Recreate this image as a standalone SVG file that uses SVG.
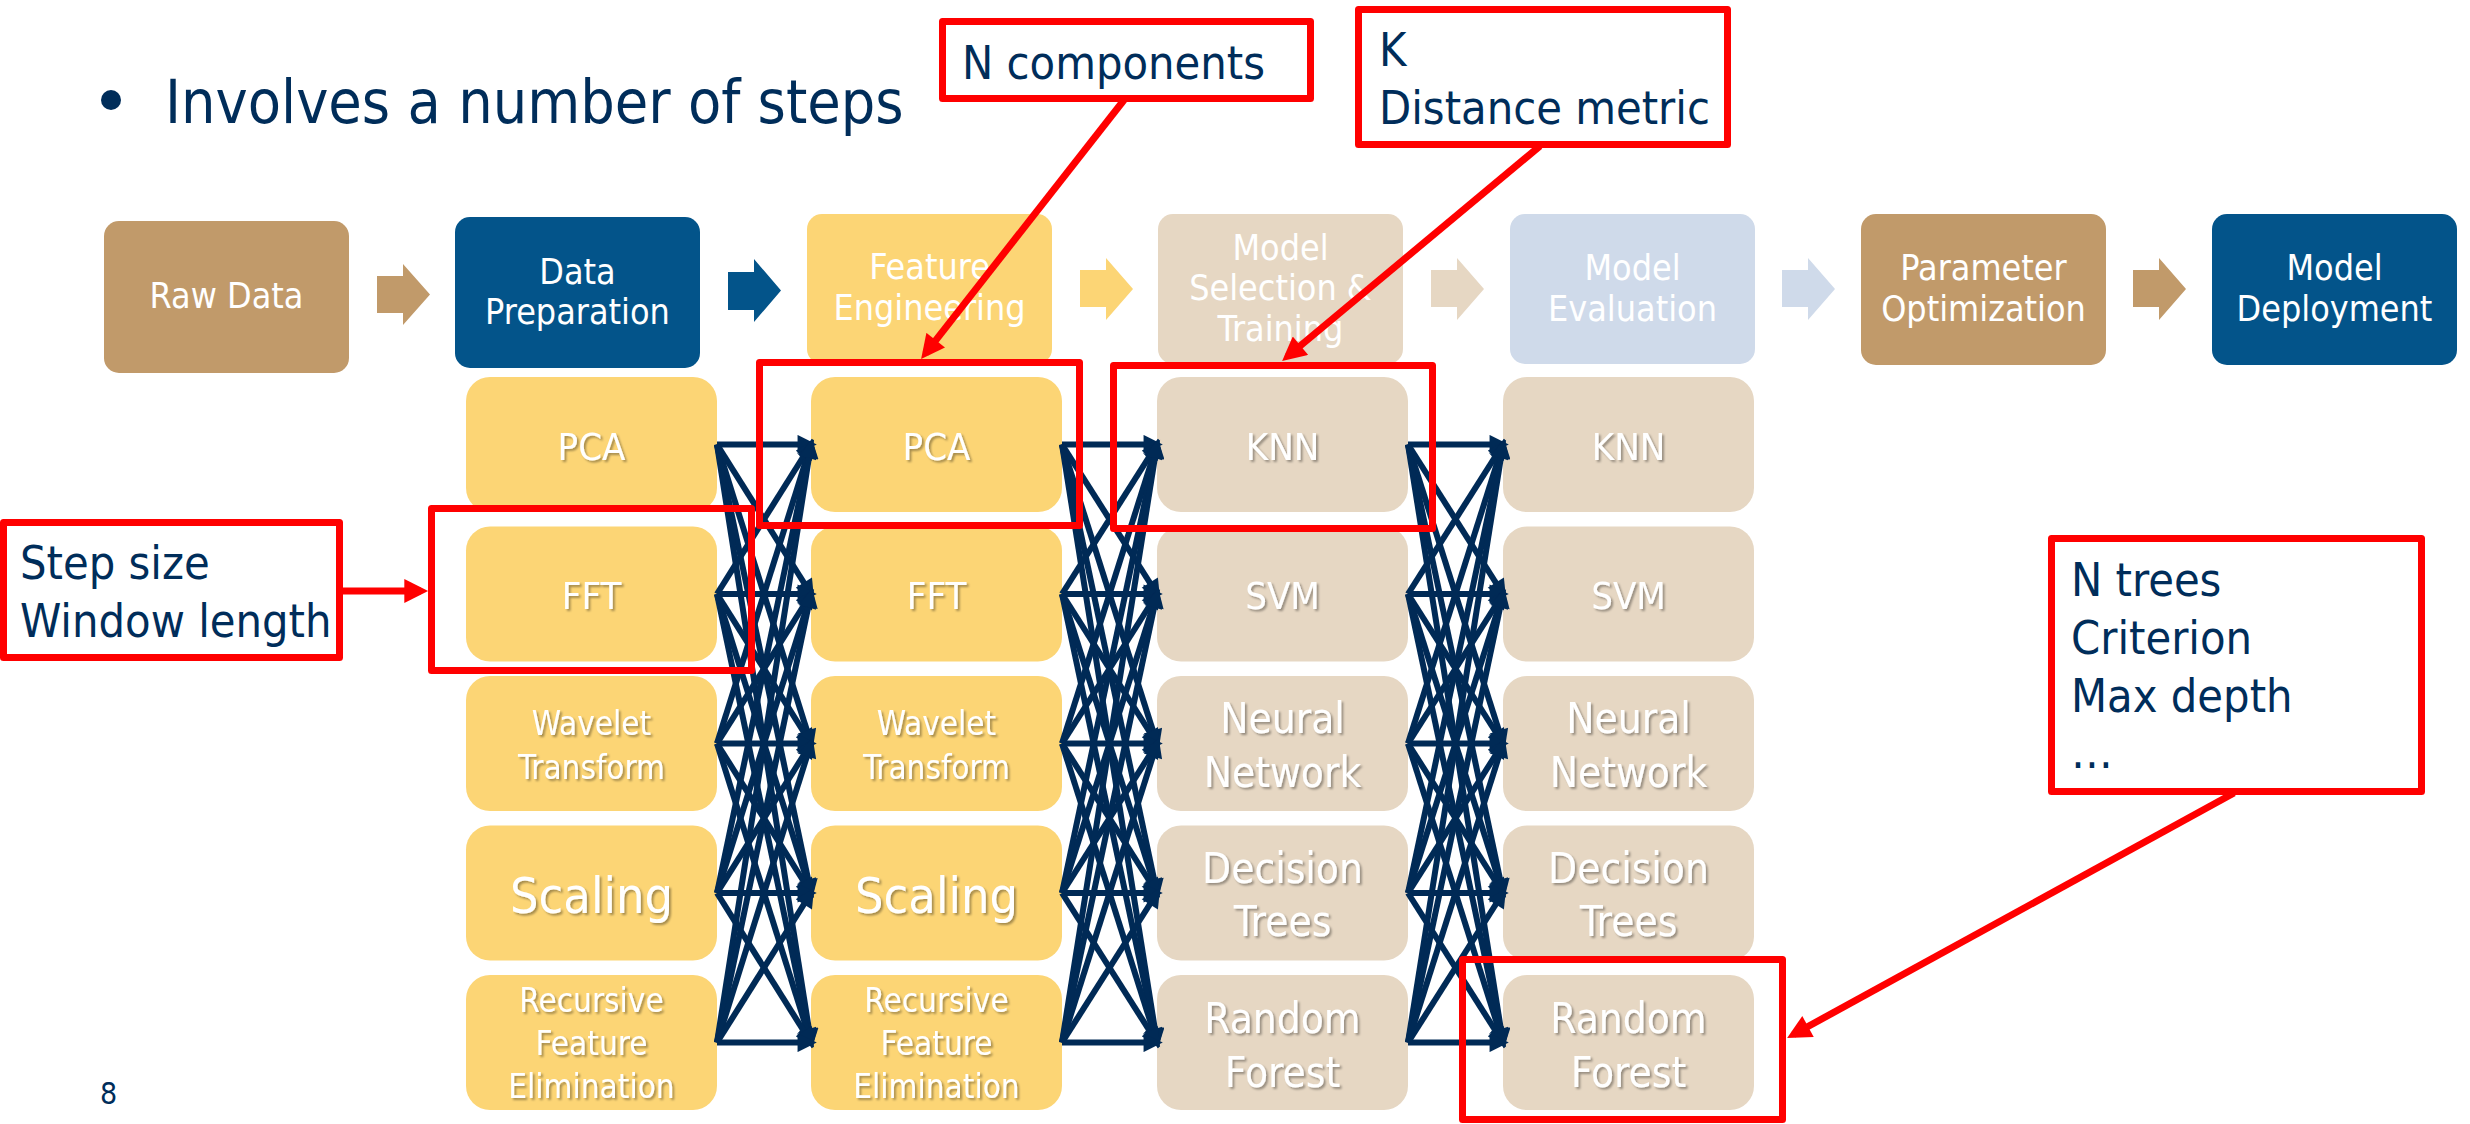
<svg xmlns="http://www.w3.org/2000/svg" width="2470" height="1124" viewBox="0 0 2470 1124">
  <defs>
    <style>
      .f { font-family: "DejaVu Sans Condensed", "Liberation Sans", Arial, sans-serif; }
      .lbl { font-family: "DejaVu Sans Condensed", "Liberation Sans", Arial, sans-serif; fill: #ffffff; text-anchor: middle; }
      .top { font-size: 35.6px; }
      .sm { font-size: 38px; }
      .xs { font-size: 33px; }
      .lg { font-size: 42px; }
      .xl { font-size: 50px; }
      .sh { filter: url(#shadow); }
      .note { font-family: "DejaVu Sans Condensed", "Liberation Sans", Arial, sans-serif; font-size: 46.5px; fill: #002D5A; }
      .tan { fill: #C19A6A; }
      .navy { fill: #03548A; }
      .yel { fill: #FCD575; }
      .bei { fill: #E6D7C3; }
      .blu { fill: #CFDAEA; }
      .red { fill: none; stroke: #FF0000; stroke-width: 7; stroke-linejoin: round; }
      .redw { fill: #ffffff; stroke: #FF0000; stroke-width: 7; stroke-linejoin: round; }
      .redl { stroke: #FF0000; stroke-width: 7; fill: none; marker-end: url(#redHead); }
      .mesh line { stroke: #002A56; stroke-width: 6; marker-end: url(#navyHead); }
    </style>
    <filter id="shadow" x="-10%" y="-10%" width="130%" height="140%">
      <feDropShadow dx="2" dy="2" stdDeviation="1" flood-color="#000000" flood-opacity="0.35"/>
    </filter>
    <marker id="navyHead" viewBox="0 0 10 10" refX="7" refY="5" markerWidth="4" markerHeight="3.2" orient="auto" markerUnits="strokeWidth">
      <path d="M0,0 L10,5 L0,10 z" fill="#002A56"/>
    </marker>
    <marker id="redHead" viewBox="0 0 10 10" refX="7" refY="5" markerWidth="3.6" markerHeight="3.4" orient="auto" markerUnits="strokeWidth">
      <path d="M0,0 L10,5 L0,10 z" fill="#FF0000"/>
    </marker>
  </defs>

  <rect width="2470" height="1124" fill="#ffffff"/>

  <!-- heading -->
  <g id="heading">
    <circle cx="111" cy="100" r="10" fill="#002D5A"/>
    <text class="f" x="165" y="123" font-size="60.5" fill="#002D5A">Involves a number of steps</text>
  </g>

  <!-- pipeline stages -->
  <g id="raw-data">
    <rect class="tan" x="104" y="221" width="245" height="152" rx="15"/>
    <text class="lbl top" x="226.5" y="308">Raw Data</text>
  </g>
  <g id="data-preparation">
    <rect class="navy" x="455" y="217" width="245" height="151" rx="15"/>
    <text class="lbl top" x="577.5" y="284">Data</text>
    <text class="lbl top" x="577.5" y="324">Preparation</text>
  </g>
  <g id="feature-engineering">
    <rect class="yel" x="807" y="214" width="245" height="150" rx="15"/>
    <text class="lbl top" x="929.5" y="279">Feature</text>
    <text class="lbl top" x="929.5" y="320">Engineering</text>
  </g>
  <g id="model-selection">
    <rect class="bei" x="1158" y="214" width="245" height="150" rx="15"/>
    <text class="lbl top" x="1280.5" y="260">Model</text>
    <text class="lbl top" x="1280.5" y="300">Selection &amp;</text>
    <text class="lbl top" x="1280.5" y="341">Training</text>
  </g>
  <g id="model-evaluation">
    <rect class="blu" x="1510" y="214" width="245" height="150" rx="15"/>
    <text class="lbl top" x="1632.5" y="280">Model</text>
    <text class="lbl top" x="1632.5" y="321">Evaluation</text>
  </g>
  <g id="parameter-optimization">
    <rect class="tan" x="1861" y="214" width="245" height="151" rx="15"/>
    <text class="lbl top" x="1983.5" y="280">Parameter</text>
    <text class="lbl top" x="1983.5" y="321">Optimization</text>
  </g>
  <g id="model-deployment">
    <rect class="navy" x="2212" y="214" width="245" height="151" rx="15"/>
    <text class="lbl top" x="2334.5" y="280">Model</text>
    <text class="lbl top" x="2334.5" y="321">Deployment</text>
  </g>

  <!-- block arrows between stages -->
  <g id="stage-arrows">
    <polygon class="tan" points="377,276 403,276 403,264 430,294.5 403,325 403,313 377,313"/>
    <polygon class="navy" points="728,272 754,272 754,259 781,290.5 754,322 754,310 728,310"/>
    <polygon class="yel" points="1080,270 1106,270 1106,258 1133,289 1106,320 1106,307 1080,307"/>
    <polygon class="bei" points="1431,270 1457,270 1457,258 1484,289 1457,320 1457,307 1431,307"/>
    <polygon class="blu" points="1782,270 1808,270 1808,258 1835,289 1808,320 1808,307 1782,307"/>
    <polygon class="tan" points="2133,270 2159,270 2159,258 2186,289 2159,320 2159,307 2133,307"/>
  </g>

  <!-- feature engineering options (column 1) -->
  <g id="fe1-pca"><rect class="yel" x="466" y="377" width="251" height="135" rx="24"/><text class="lbl sm sh" x="591.5" y="460">PCA</text></g>
  <g id="fe1-fft"><rect class="yel" x="466" y="526.5" width="251" height="135" rx="24"/><text class="lbl sm sh" x="591.5" y="609">FFT</text></g>
  <g id="fe1-wavelet"><rect class="yel" x="466" y="676" width="251" height="135" rx="24"/><text class="lbl xs sh" x="591.5" y="735">Wavelet</text><text class="lbl xs sh" x="591.5" y="779">Transform</text></g>
  <g id="fe1-scaling"><rect class="yel" x="466" y="825.5" width="251" height="135" rx="24"/><text class="lbl xl sh" x="591.5" y="913">Scaling</text></g>
  <g id="fe1-rfe"><rect class="yel" x="466" y="975" width="251" height="135" rx="24"/><text class="lbl xs sh" x="591.5" y="1012">Recursive</text><text class="lbl xs sh" x="591.5" y="1055">Feature</text><text class="lbl xs sh" x="591.5" y="1098">Elimination</text></g>

  <!-- feature engineering options (column 2) -->
  <g id="fe2-pca"><rect class="yel" x="811" y="377" width="251" height="135" rx="24"/><text class="lbl sm sh" x="936.5" y="460">PCA</text></g>
  <g id="fe2-fft"><rect class="yel" x="811" y="526.5" width="251" height="135" rx="24"/><text class="lbl sm sh" x="936.5" y="609">FFT</text></g>
  <g id="fe2-wavelet"><rect class="yel" x="811" y="676" width="251" height="135" rx="24"/><text class="lbl xs sh" x="936.5" y="735">Wavelet</text><text class="lbl xs sh" x="936.5" y="779">Transform</text></g>
  <g id="fe2-scaling"><rect class="yel" x="811" y="825.5" width="251" height="135" rx="24"/><text class="lbl xl sh" x="936.5" y="913">Scaling</text></g>
  <g id="fe2-rfe"><rect class="yel" x="811" y="975" width="251" height="135" rx="24"/><text class="lbl xs sh" x="936.5" y="1012">Recursive</text><text class="lbl xs sh" x="936.5" y="1055">Feature</text><text class="lbl xs sh" x="936.5" y="1098">Elimination</text></g>

  <!-- models (column 3) -->
  <g id="m1-knn"><rect class="bei" x="1157" y="377" width="251" height="135" rx="24"/><text class="lbl sm sh" x="1282.5" y="460">KNN</text></g>
  <g id="m1-svm"><rect class="bei" x="1157" y="526.5" width="251" height="135" rx="24"/><text class="lbl sm sh" x="1282.5" y="609">SVM</text></g>
  <g id="m1-nn"><rect class="bei" x="1157" y="676" width="251" height="135" rx="24"/><text class="lbl lg sh" x="1282.5" y="733">Neural</text><text class="lbl lg sh" x="1282.5" y="787">Network</text></g>
  <g id="m1-dt"><rect class="bei" x="1157" y="825.5" width="251" height="135" rx="24"/><text class="lbl lg sh" x="1282.5" y="883">Decision</text><text class="lbl lg sh" x="1282.5" y="936">Trees</text></g>
  <g id="m1-rf"><rect class="bei" x="1157" y="975" width="251" height="135" rx="24"/><text class="lbl lg sh" x="1282.5" y="1033">Random</text><text class="lbl lg sh" x="1282.5" y="1087">Forest</text></g>

  <!-- models (column 4) -->
  <g id="m2-knn"><rect class="bei" x="1503" y="377" width="251" height="135" rx="24"/><text class="lbl sm sh" x="1628.5" y="460">KNN</text></g>
  <g id="m2-svm"><rect class="bei" x="1503" y="526.5" width="251" height="135" rx="24"/><text class="lbl sm sh" x="1628.5" y="609">SVM</text></g>
  <g id="m2-nn"><rect class="bei" x="1503" y="676" width="251" height="135" rx="24"/><text class="lbl lg sh" x="1628.5" y="733">Neural</text><text class="lbl lg sh" x="1628.5" y="787">Network</text></g>
  <g id="m2-dt"><rect class="bei" x="1503" y="825.5" width="251" height="135" rx="24"/><text class="lbl lg sh" x="1628.5" y="883">Decision</text><text class="lbl lg sh" x="1628.5" y="936">Trees</text></g>
  <g id="m2-rf"><rect class="bei" x="1503" y="975" width="251" height="135" rx="24"/><text class="lbl lg sh" x="1628.5" y="1033">Random</text><text class="lbl lg sh" x="1628.5" y="1087">Forest</text></g>

  <!-- every option links to every option of the next column -->
  <g id="connectors">
    <g class="mesh" transform="translate(717,0)">
      <line x1="0" y1="444.5" x2="94" y2="444.5"/><line x1="0" y1="444.5" x2="94" y2="594"/><line x1="0" y1="444.5" x2="94" y2="743.5"/><line x1="0" y1="444.5" x2="94" y2="893"/><line x1="0" y1="444.5" x2="94" y2="1042.5"/>
      <line x1="0" y1="594" x2="94" y2="444.5"/><line x1="0" y1="594" x2="94" y2="594"/><line x1="0" y1="594" x2="94" y2="743.5"/><line x1="0" y1="594" x2="94" y2="893"/><line x1="0" y1="594" x2="94" y2="1042.5"/>
      <line x1="0" y1="743.5" x2="94" y2="444.5"/><line x1="0" y1="743.5" x2="94" y2="594"/><line x1="0" y1="743.5" x2="94" y2="743.5"/><line x1="0" y1="743.5" x2="94" y2="893"/><line x1="0" y1="743.5" x2="94" y2="1042.5"/>
      <line x1="0" y1="893" x2="94" y2="444.5"/><line x1="0" y1="893" x2="94" y2="594"/><line x1="0" y1="893" x2="94" y2="743.5"/><line x1="0" y1="893" x2="94" y2="893"/><line x1="0" y1="893" x2="94" y2="1042.5"/>
      <line x1="0" y1="1042.5" x2="94" y2="444.5"/><line x1="0" y1="1042.5" x2="94" y2="594"/><line x1="0" y1="1042.5" x2="94" y2="743.5"/><line x1="0" y1="1042.5" x2="94" y2="893"/><line x1="0" y1="1042.5" x2="94" y2="1042.5"/>
    </g>
    <g class="mesh" transform="translate(1062,0)">
      <line x1="0" y1="444.5" x2="95" y2="444.5"/><line x1="0" y1="444.5" x2="95" y2="594"/><line x1="0" y1="444.5" x2="95" y2="743.5"/><line x1="0" y1="444.5" x2="95" y2="893"/><line x1="0" y1="444.5" x2="95" y2="1042.5"/>
      <line x1="0" y1="594" x2="95" y2="444.5"/><line x1="0" y1="594" x2="95" y2="594"/><line x1="0" y1="594" x2="95" y2="743.5"/><line x1="0" y1="594" x2="95" y2="893"/><line x1="0" y1="594" x2="95" y2="1042.5"/>
      <line x1="0" y1="743.5" x2="95" y2="444.5"/><line x1="0" y1="743.5" x2="95" y2="594"/><line x1="0" y1="743.5" x2="95" y2="743.5"/><line x1="0" y1="743.5" x2="95" y2="893"/><line x1="0" y1="743.5" x2="95" y2="1042.5"/>
      <line x1="0" y1="893" x2="95" y2="444.5"/><line x1="0" y1="893" x2="95" y2="594"/><line x1="0" y1="893" x2="95" y2="743.5"/><line x1="0" y1="893" x2="95" y2="893"/><line x1="0" y1="893" x2="95" y2="1042.5"/>
      <line x1="0" y1="1042.5" x2="95" y2="444.5"/><line x1="0" y1="1042.5" x2="95" y2="594"/><line x1="0" y1="1042.5" x2="95" y2="743.5"/><line x1="0" y1="1042.5" x2="95" y2="893"/><line x1="0" y1="1042.5" x2="95" y2="1042.5"/>
    </g>
    <g class="mesh" transform="translate(1408,0)">
      <line x1="0" y1="444.5" x2="95" y2="444.5"/><line x1="0" y1="444.5" x2="95" y2="594"/><line x1="0" y1="444.5" x2="95" y2="743.5"/><line x1="0" y1="444.5" x2="95" y2="893"/><line x1="0" y1="444.5" x2="95" y2="1042.5"/>
      <line x1="0" y1="594" x2="95" y2="444.5"/><line x1="0" y1="594" x2="95" y2="594"/><line x1="0" y1="594" x2="95" y2="743.5"/><line x1="0" y1="594" x2="95" y2="893"/><line x1="0" y1="594" x2="95" y2="1042.5"/>
      <line x1="0" y1="743.5" x2="95" y2="444.5"/><line x1="0" y1="743.5" x2="95" y2="594"/><line x1="0" y1="743.5" x2="95" y2="743.5"/><line x1="0" y1="743.5" x2="95" y2="893"/><line x1="0" y1="743.5" x2="95" y2="1042.5"/>
      <line x1="0" y1="893" x2="95" y2="444.5"/><line x1="0" y1="893" x2="95" y2="594"/><line x1="0" y1="893" x2="95" y2="743.5"/><line x1="0" y1="893" x2="95" y2="893"/><line x1="0" y1="893" x2="95" y2="1042.5"/>
      <line x1="0" y1="1042.5" x2="95" y2="444.5"/><line x1="0" y1="1042.5" x2="95" y2="594"/><line x1="0" y1="1042.5" x2="95" y2="743.5"/><line x1="0" y1="1042.5" x2="95" y2="893"/><line x1="0" y1="1042.5" x2="95" y2="1042.5"/>
    </g>
  </g>

  <!-- highlight frames around tuned options -->
  <g id="highlights">
    <rect class="red" x="431.5" y="508.5" width="320" height="162"/>
    <rect class="red" x="759.5" y="362.5" width="320" height="163"/>
    <rect class="red" x="1113.5" y="365.5" width="319" height="163"/>
    <rect class="red" x="1462.5" y="959.5" width="320" height="160"/>
  </g>

  <!-- hyperparameter callouts -->
  <g id="callout-n-components">
    <rect class="redw" x="942.5" y="21.5" width="368" height="77"/>
    <text class="note" x="962" y="79">N components</text>
  </g>
  <g id="callout-knn">
    <rect class="redw" x="1358.5" y="9.5" width="369" height="135"/>
    <text class="note" x="1379" y="66">K</text>
    <text class="note" x="1379" y="124">Distance metric</text>
  </g>
  <g id="callout-fft">
    <rect class="redw" x="3.5" y="522.5" width="336" height="135"/>
    <text class="note" x="20" y="579">Step size</text>
    <text class="note" x="20" y="637">Window length</text>
  </g>
  <g id="callout-forest">
    <rect class="redw" x="2051.5" y="538.5" width="370" height="253"/>
    <text class="note" x="2071" y="596">N trees</text>
    <text class="note" x="2071" y="654">Criterion</text>
    <text class="note" x="2071" y="712">Max depth</text>
    <text class="note" x="2071" y="768">…</text>
  </g>

  <g id="callout-pointers">
    <line class="redl" x1="1124" y1="100" x2="925.5" y2="353.3"/>
    <line class="redl" x1="1540" y1="146" x2="1287.6" y2="356.4"/>
    <line class="redl" x1="343" y1="591" x2="421" y2="591"/>
    <line class="redl" x1="2234" y1="793" x2="1793.4" y2="1034.5"/>
  </g>

  <!-- slide number -->
  <text class="f" x="100" y="1104" font-size="30" fill="#002D5A">8</text>
</svg>
